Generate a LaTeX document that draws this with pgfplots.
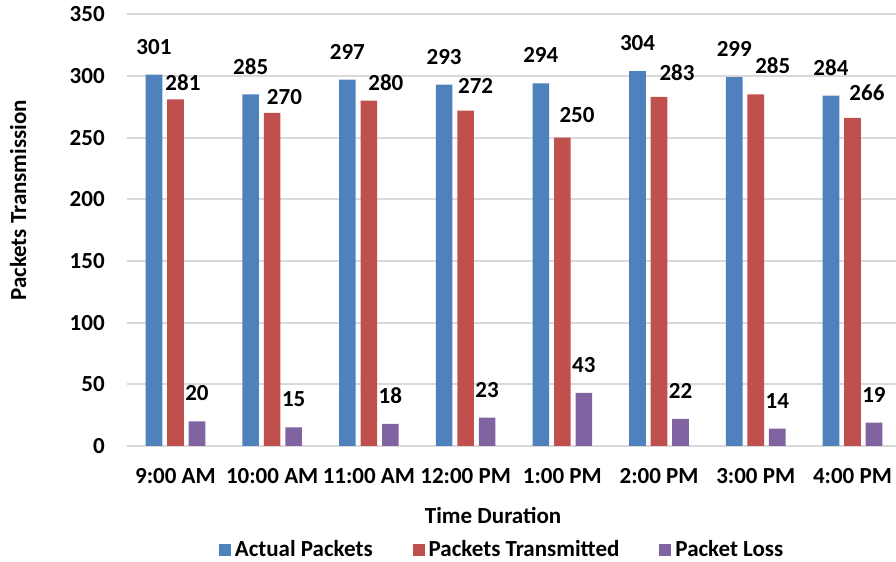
\documentclass[border=0pt]{standalone}
\usepackage{fontspec}
\setmainfont{Carlito}
\usepackage{pgfplots}
\usepackage{pgfplotstable}
\pgfplotsset{compat=1.18}
\definecolor{cA}{HTML}{4F81BD}
\definecolor{cB}{HTML}{C0504D}
\definecolor{cC}{HTML}{8064A2}
\definecolor{gridc}{HTML}{D9D9D9}
\pgfplotstableread{
x a b c rdx rdy
0 301 281 20 3.75 8.5
1 285 270 15 6.15 7.75
2 297 280 18 8.5 9
3 293 272 23 5 12.5
4 294 250 43 7.35 11.5
5 304 283 22 9 12.25
6 299 285 14 8.5 14.25
7 284 266 19 7.25 12.75
}\data
\begin{document}
\fontsize{11.5}{13}\selectfont\bfseries
\begin{tikzpicture}
\begin{axis}[
  at={(0,0)}, anchor=south west,
  scale only axis, width=384.45pt, height=215.85pt,
  ybar=2.45pt, bar width=8.3pt,
  xmin=-0.5, xmax=7.45, ymin=0, ymax=350,
  ytick={0,50,...,350},
  xtick=data,
  xticklabels={9:00 AM,10:00 AM,11:00 AM,12:00 PM,1:00 PM,2:00 PM,3:00 PM,4:00 PM},
  axis line style={draw=none},
  major tick length=0pt,
  ymajorgrids, grid style={draw=gridc, line width=1pt},
  /pgf/number format/assume math mode=true,
  xticklabel style={anchor=center, yshift=-15pt},
  yticklabel style={anchor=east, inner sep=0pt, xshift=-11pt},
  xlabel={Time Duration}, ylabel={Packets Transmission},
  xlabel style={at={(axis description cs:0.476,-0.16)}, anchor=center},
  ylabel style={at={(axis description cs:-0.1418,0.569)}, anchor=center},
  legend style={at={(axis description cs:0.489,-0.241)}, anchor=center, draw=none,
    legend columns=3, /tikz/every even column/.append style={column sep=18pt}},
  legend image code/.code={\fill[#1] (0pt,-3pt) rectangle (6pt,3pt);},
  clip=false,
]
\addplot[fill=cA, draw=none, nodes near coords,
  every node near coord/.append style={anchor=center, yshift=14pt, text=black}]
  table[x=x, y=a] {\data};
\addplot[fill=cB, draw=none,
  visualization depends on={\thisrow{rdx} \as \rdx},
  visualization depends on={\thisrow{rdy} \as \rdy},
  nodes near coords,
  every node near coord/.append style={anchor=center, xshift=\rdx pt, yshift=\rdy pt, text=black}]
  table[x=x, y=b] {\data};
\addplot[fill=cC, draw=none, nodes near coords,
  every node near coord/.append style={anchor=center, yshift=14pt, text=black}]
  table[x=x, y=c] {\data};
\legend{Actual Packets, Packets Transmitted, Packet Loss}
\end{axis}
\pgfresetboundingbox
\path (-63.55pt,-58pt) rectangle (384.45pt,223pt);
\end{tikzpicture}
\end{document}
